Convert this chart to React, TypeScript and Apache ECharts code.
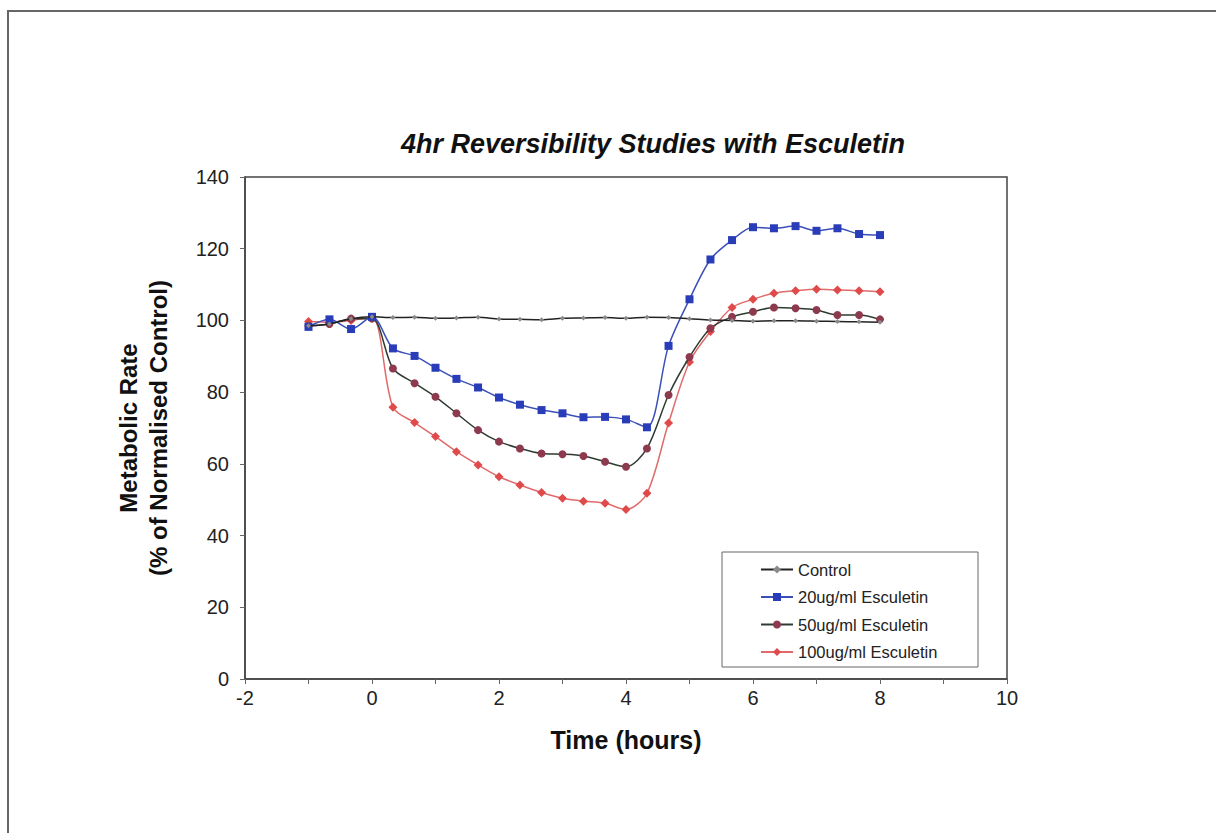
import React, { useEffect, useRef } from "react";
import * as echarts from "echarts";

const times = [-1, -0.67, -0.33, 0, 0.33, 0.67, 1, 1.33, 1.67, 2, 2.33, 2.67, 3, 3.33, 3.67, 4, 4.33, 4.67, 5, 5.33, 5.67, 6, 6.33, 6.67, 7, 7.33, 7.67, 8];

const control = [98.5, 99, 100.5, 101, 100.8, 100.9, 100.6, 100.7, 100.9, 100.4, 100.3, 100.2, 100.6, 100.7, 100.8, 100.6, 100.9, 100.8, 100.5, 100.1, 100.0, 99.8, 99.9, 99.9, 99.8, 99.7, 99.6, 99.5];
const esc20 = [98.2, 100.3, 97.6, 101, 92.2, 90.1, 86.8, 83.7, 81.3, 78.5, 76.5, 75.0, 74.1, 73.0, 73.1, 72.4, 70.2, 92.9, 105.9, 117, 122.4, 126, 125.7, 126.3, 125, 125.7, 124.1, 123.8];
const esc50 = [98.5, 99, 100.5, 100.5, 86.6, 82.5, 78.7, 74.1, 69.4, 66.2, 64.3, 62.9, 62.7, 62.2, 60.6, 59.2, 64.3, 79.2, 89.8, 97.8, 101, 102.4, 103.6, 103.4, 102.9, 101.5, 101.5, 100.3];
const esc100 = [99.7, 99.5, 100, 100.8, 75.8, 71.5, 67.6, 63.4, 59.7, 56.4, 54.1, 52.0, 50.4, 49.6, 49.0, 47.3, 51.8, 71.4, 88.4, 96.9, 103.6, 105.9, 107.6, 108.3, 108.7, 108.5, 108.3, 108.0];

const seriesNames = ["Control", "20ug/ml Esculetin", "50ug/ml Esculetin", "100ug/ml Esculetin"];

const FONT = "'Liberation Sans', Arial, sans-serif";

function pair(vals: number[]) {
  return times.map((t, i) => [t, vals[i]]);
}

export default function App() {
  const ref = useRef<HTMLDivElement>(null);
  useEffect(() => {
    if (!ref.current) return;
    const chart = echarts.init(ref.current, undefined, { renderer: "svg" });
    chart.setOption({
      animation: false,
      backgroundColor: "#ffffff",
      title: {
        text: "4hr Reversibility Studies with Esculetin",
        left: 648,
        textAlign: "center",
        top: 125,
        textStyle: { fontFamily: FONT, fontSize: 27, fontWeight: "bold", fontStyle: "italic", color: "#111" },
      },
      grid: {
        left: 245,
        top: 177,
        right: 209,
        bottom: 154,
        show: true,
        borderColor: "#444",
        borderWidth: 1.5,
        backgroundColor: "#fff",
      },
      legend: {
        orient: "vertical",
        left: 755,
        top: 556,
        itemWidth: 32,
        itemHeight: 10,
        itemGap: 10.5,
        data: seriesNames,
        textStyle: { fontFamily: FONT, fontSize: 16.5, lineHeight: 16, color: "#222" },
      },
      xAxis: {
        type: "value",
        min: -2,
        max: 10,
        interval: 2,
        name: "Time (hours)",
        nameLocation: "middle",
        nameGap: 48,
        nameTextStyle: { fontFamily: FONT, fontSize: 25, fontWeight: "bold", color: "#111" },
        axisLine: { show: true, onZero: false, lineStyle: { color: "#444", width: 1.5 } },
        axisTick: { show: true, inside: false, length: 5, lineStyle: { color: "#666" } },
        minorTick: { show: true, splitNumber: 2, length: 5, lineStyle: { color: "#666" } },
        splitLine: { show: false },
        axisLabel: { fontFamily: FONT, fontSize: 20, color: "#222", margin: 9 },
      },
      yAxis: {
        type: "value",
        min: 0,
        max: 140,
        interval: 20,
        name: "Metabolic Rate\n(% of Normalised Control)",
        nameLocation: "middle",
        nameGap: 72,
        nameTextStyle: { fontFamily: FONT, fontSize: 24, fontWeight: "bold", color: "#111", lineHeight: 30 },
        axisLine: { show: true, onZero: false, lineStyle: { color: "#444", width: 1.5 } },
        axisTick: { show: true, inside: false, length: 5, lineStyle: { color: "#666" } },
        splitLine: { show: false },
        axisLabel: { fontFamily: FONT, fontSize: 20, color: "#222", margin: 16 },
      },
      graphic: [
        {
          type: "rect",
          shape: { x: 8, y: 11, width: 1230, height: 850 },
          style: { fill: "none", stroke: "#666", lineWidth: 2 },
          silent: true,
          z: -10,
        },
        {
          type: "rect",
          shape: { x: 722, y: 552, width: 256, height: 115 },
          style: { fill: "#fff", stroke: "#666", lineWidth: 1 },
          silent: true,
          z: 1,
        },
      ],
      series: [
        {
          name: seriesNames[0],
          type: "line",
          data: pair(control),
          smooth: 0.3,
          symbol: "diamond",
          symbolSize: 5,
          lineStyle: { color: "#222", width: 1.5 },
          itemStyle: { color: "#8a8a8a" },
          z: 5,
        },
        {
          name: seriesNames[1],
          type: "line",
          data: pair(esc20),
          smooth: 0.3,
          symbol: "rect",
          symbolSize: 8,
          lineStyle: { color: "#3a4fb8", width: 1.5 },
          itemStyle: { color: "#2a3db8" },
          z: 4,
        },
        {
          name: seriesNames[2],
          type: "line",
          data: pair(esc50),
          smooth: 0.3,
          symbol: "circle",
          symbolSize: 8,
          lineStyle: { color: "#2f3a32", width: 1.5 },
          itemStyle: { color: "#8e3a4e" },
          z: 3,
        },
        {
          name: seriesNames[3],
          type: "line",
          data: pair(esc100),
          smooth: 0.3,
          symbol: "diamond",
          symbolSize: 9,
          lineStyle: { color: "#e06a6a", width: 1.5 },
          itemStyle: { color: "#e04a4a" },
          z: 2,
        },
      ],
    });
    return () => chart.dispose();
  }, []);
  return (
    <div
      ref={ref}
      style={{ position: "fixed", left: 0, top: 0, width: 1216, height: 833, background: "#fff" }}
    />
  );
}
